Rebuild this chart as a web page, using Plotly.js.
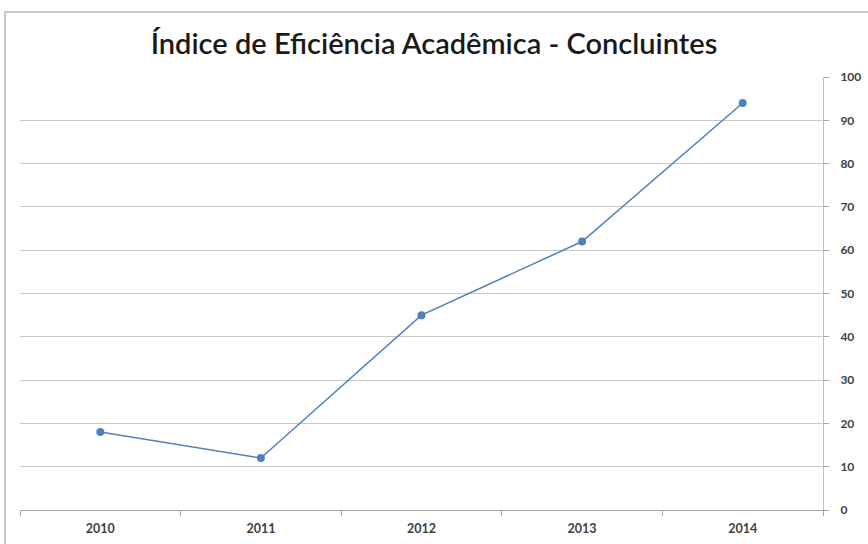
<!DOCTYPE html>
<html>
<head>
<meta charset="utf-8">
<script src="https://cdn.plot.ly/plotly-3.0.1.min.js"></script>
<style>html,body{margin:0;padding:0;background:#fff;}#chart{width:868px;height:544px;}</style>
</head>
<body>
<div id="chart"></div>
<script>
const years = ["2010", "2011", "2012", "2013", "2014"];
const indice = [18, 12, 45, 62, 94];
const yTicks = [0, 10, 20, 30, 40, 50, 60, 70, 80, 90, 100];

const trace = {
  x: years,
  y: indice,
  type: "scatter",
  mode: "lines+markers",
  line: {color: "#4f81bd", width: 1.5},
  marker: {color: "#4f81bd", size: 8},
  hoverinfo: "x+y"
};

const layout = {
  width: 868,
  height: 544,
  margin: {l: 20, r: 45, t: 77, b: 34},
  paper_bgcolor: "#ffffff",
  plot_bgcolor: "#ffffff",
  showlegend: false,
  title: {
    text: "Índice de Eficiência Acadêmica - Concluintes",
    font: {family: "Lato, 'Open Sans', sans-serif", size: 29, color: "#1a1a1a", weight: 600},
    x: 0.5, xanchor: "center",
    y: 0.92, yanchor: "middle"
  },
  xaxis: {
    type: "category",
    range: [-0.5, 4.5],
    tickson: "boundaries",
    ticks: "outside",
    ticklen: 5,
    tickcolor: "#a6a6a6",
    showline: true,
    linecolor: "#a6a6a6",
    linewidth: 1,
    showgrid: false,
    ticklabelstandoff: 7,
    tickfont: {family: "Lato, sans-serif", size: 12.5, color: "#404040", weight: "bold"},
    fixedrange: true
  },
  yaxis: {
    side: "right",
    range: [0, 100],
    tickvals: yTicks,
    ticktext: yTicks.map(String),
    ticks: "outside",
    ticklen: 5,
    tickcolor: "#a6a6a6",
    showline: true,
    linecolor: "#bfbfbf",
    linewidth: 1,
    showgrid: true,
    gridcolor: "#c8c8c8",
    gridwidth: 1,
    zeroline: false,
    ticklabelstandoff: 9,
    tickfont: {family: "Lato, sans-serif", size: 12, color: "#404040", weight: "bold"},
    fixedrange: true
  },
  shapes: [{
    type: "rect", xref: "paper", yref: "paper",
    x0: -0.0187, x1: 1.2, y0: -0.2, y1: 1.150,
    line: {color: "#c8c8c8", width: 2},
    fillcolor: "rgba(0,0,0,0)", layer: "below"
  }]
};

Plotly.newPlot("chart", [trace], layout, {displayModeBar: false, staticPlot: true});
</script>
</body>
</html>
